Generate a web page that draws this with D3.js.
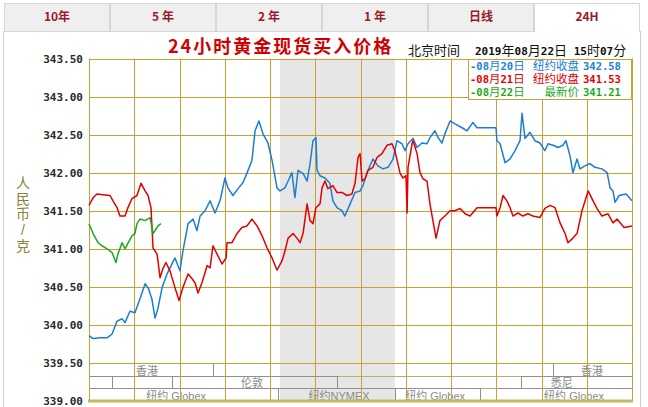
<!DOCTYPE html>
<html><head><meta charset="utf-8">
<script src="https://cdn.jsdelivr.net/npm/d3@7"></script>
<style>body{margin:0;background:#fff;} svg{display:block} text{white-space:pre}</style>
</head><body>
<svg id="c" width="648" height="407"></svg>
<script>
// ---------- data ----------
const tabs = ["10年", "5 年", "2 年", "1 年", "日线", "24H"];
const activeTab = "24H";
const yTicks = [343.5, 343.0, 342.5, 342.0, 341.5, 341.0, 340.5, 340.0, 339.5, 339.0];
const hourTicks = [0, 2, 4, 6, 8, 10, 12, 14, 16, 18, 20, 22, 24];
const shadeBand = [8.44, 13.52];
const titleText = "24小时黄金现货买入价格";
const timeLabel = "北京时间";
const timeText = "2019年08月22日 15时07分";
const yTitle = ["人", "民", "币", "/", "克"];

// [hour since 12:00, price]
const blueSeries = [
[0,339.86],[0.18,339.82],[0.49,339.83],[0.80,339.83],[1.02,339.88],[1.24,340.05],[1.46,340.08],[1.59,340.03],
[1.81,340.18],[2.03,340.16],[2.25,340.34],[2.48,340.54],[2.61,340.49],[2.78,340.34],[2.92,340.09],[3.05,340.22],
[3.23,340.49],[3.45,340.67],[3.58,340.75],[3.80,340.88],[4.02,340.71],[4.15,340.97],[4.38,341.33],[4.60,341.39],
[4.77,341.24],[4.91,341.43],[5.13,341.50],[5.35,341.63],[5.57,341.47],[5.79,341.63],[6.01,341.93],[6.14,341.80],
[6.36,341.70],[6.59,341.79],[6.81,341.87],[7.03,342.03],[7.20,342.16],[7.34,342.55],[7.51,342.68],[7.69,342.51],
[7.91,342.39],[8.09,342.16],[8.31,341.80],[8.44,341.76],[8.66,341.80],[8.80,341.89],[8.97,342.00],[9.10,341.67],
[9.24,342.03],[9.46,341.99],[9.64,341.89],[9.77,342.12],[9.90,342.42],[10.03,342.46],[10.08,342.03],[10.21,341.96],
[10.43,341.93],[10.65,341.86],[10.78,341.63],[10.96,341.54],[11.18,341.50],[11.31,341.43],[11.54,341.59],[11.76,341.74],
[11.98,341.76],[12.11,341.83],[12.33,342.03],[12.55,342.18],[12.77,342.09],[12.99,342.05],[13.22,342.07],[13.44,342.18],
[13.61,342.42],[13.83,342.38],[13.97,342.29],[14.10,342.38],[14.32,342.45],[14.50,342.33],[14.72,342.39],[14.94,342.38],
[15.07,342.46],[15.29,342.55],[15.43,342.46],[15.60,342.39],[15.73,342.51],[15.96,342.68],[16.18,342.64],[16.49,342.59],
[16.71,342.55],[16.97,342.66],[17.15,342.59],[17.99,342.59],[18.03,342.42],[18.17,342.38],[18.39,342.13],[18.61,342.18],
[18.83,342.29],[19.05,342.42],[19.14,342.78],[19.27,342.45],[19.49,342.53],[19.71,342.42],[19.93,342.39],[20.15,342.29],
[20.29,342.38],[20.51,342.36],[20.73,342.33],[20.95,342.36],[21.08,342.42],[21.26,342.22],[21.39,342.00],[21.57,342.18],
[21.70,342.05],[21.92,342.09],[22.14,342.12],[22.36,342.07],[22.67,342.05],[22.90,342.00],[23.03,341.80],[23.16,341.76],
[23.25,341.61],[23.43,341.70],[23.74,341.72],[24.0,341.63]
];
const redSeries = [
[0,341.57],[0.18,341.67],[0.35,341.72],[0.62,341.71],[0.93,341.70],[1.06,341.63],[1.24,341.54],[1.37,341.43],
[1.59,341.43],[1.72,341.54],[1.90,341.66],[2.12,341.70],[2.30,341.86],[2.48,341.76],[2.61,341.70],[2.74,341.54],
[2.83,341.01],[3.01,340.93],[3.14,340.62],[3.27,340.74],[3.40,340.82],[3.58,340.71],[3.80,340.49],[3.98,340.32],
[4.15,340.49],[4.38,340.67],[4.55,340.61],[4.69,340.55],[4.82,340.42],[4.99,340.55],[5.22,340.78],[5.35,340.75],
[5.48,341.04],[5.66,340.93],[5.88,340.80],[6.06,340.88],[6.10,341.08],[6.32,341.08],[6.54,341.20],[6.76,341.28],
[6.98,341.30],[7.20,341.39],[7.43,341.30],[7.65,341.17],[7.87,341.01],[8.09,340.88],[8.31,340.72],[8.53,340.84],
[8.66,340.97],[8.80,341.14],[9.02,341.20],[9.19,341.14],[9.33,341.08],[9.46,341.20],[9.64,341.59],[9.77,341.37],
[9.90,341.33],[10.03,341.54],[10.21,341.59],[10.30,341.80],[10.43,341.89],[10.56,341.79],[10.78,341.83],[10.96,341.74],
[11.18,341.74],[11.40,341.70],[11.62,341.72],[11.76,341.86],[11.89,342.20],[11.98,342.25],[12.07,341.89],[12.20,341.92],
[12.33,342.03],[12.55,342.07],[12.73,342.20],[12.95,342.25],[13.17,342.36],[13.39,342.38],[13.52,342.29],[13.75,341.99],
[13.88,341.93],[14.01,341.96],[14.06,341.47],[14.10,342.07],[14.28,342.38],[14.32,342.42],[14.50,342.25],[14.63,342.00],
[14.76,341.92],[14.94,341.89],[15.07,341.59],[15.20,341.37],[15.34,341.14],[15.51,341.37],[15.73,341.43],[15.96,341.50],
[16.18,341.50],[16.40,341.53],[16.62,341.46],[16.84,341.43],[17.15,341.54],[17.99,341.54],[18.03,341.43],[18.17,341.54],
[18.30,341.70],[18.47,341.63],[18.61,341.54],[18.74,341.43],[18.96,341.47],[19.18,341.43],[19.40,341.46],[19.62,341.43],
[19.93,341.41],[20.15,341.53],[20.38,341.57],[20.60,341.54],[20.82,341.34],[21.04,341.20],[21.17,341.08],[21.39,341.14],
[21.57,341.20],[21.79,341.50],[22.06,341.76],[22.28,341.63],[22.45,341.53],[22.67,341.43],[22.94,341.46],[23.16,341.34],
[23.34,341.39],[23.65,341.28],[24.0,341.30]
];
const greenSeries = [
[0,341.33],[0.18,341.20],[0.40,341.08],[0.57,341.04],[0.80,341.00],[1.02,340.95],[1.19,340.82],[1.28,340.93],
[1.46,341.08],[1.59,341.00],[1.72,341.07],[1.90,341.17],[2.03,341.20],[2.12,341.33],[2.25,341.39],[2.48,341.37],
[2.70,341.41],[2.83,341.20],[2.92,341.24],[3.05,341.30],[3.18,341.33]
];
const seriesColors = ["#1a7fd4", "#e30000", "#1fa81f"];
const legendDates = ["-08月20日", "-08月21日", "-08月22日"];
const legendLabels = ["纽约收盘", "纽约收盘", "最新价"];
const legendValues = ["342.58", "341.53", "341.21"];

// sessions: row 0 = 香港, row 1 = 伦敦/悉尼, row 2 = 纽约
const sessionNames = ["香港", "香港", "", "伦敦", "悉尼", "纽约 Globex", "纽约NYMEX", "纽约 Globex", "纽约 Globex"];
const sessionRows = [0, 0, 1, 1, 1, 2, 2, 2, 2];
const sessionStart = [0, 20.51, 0, 3.67, 19.1, 0, 8.35, 13.52, 17.99];
const sessionEnd = [5.48, 24, 1.02, 10.96, 24, 8.35, 13.52, 17.28, 24];
const sessionLabelAt = [2.56, 22.23, 0.5, 7.2, 20.9, 3.85, 11.05, 15.3, 21.44];

// ---------- drawing ----------
const svg = d3.select("#c");
const W = 648, H = 407;
const x = d3.scaleLinear().domain([0, 24]).range([89, 632]);
const y = d3.scaleLinear().domain([339, 343.5]).range([401, 58.5]);
const gold = "#c9a232";
const px = v => Math.round(v) + 0.5;
const MONO = "'DejaVu Sans Mono', monospace";
const CJK = "'Noto Sans CJK SC', 'Noto Sans', sans-serif";
// compact line box: latin primary font, CJK glyphs via fallback
const CJKC = "'Liberation Sans', 'Noto Sans CJK SC', sans-serif";

function mixed(sel, str, asciiSize, cjkSize, pos, cjkFamily) {
  const runs = str.match(/[\x00-\x7f]+|[^\x00-\x7f]+/g);
  runs.forEach((r, k) => {
    const ascii = /^[\x00-\x7f]/.test(r);
    const t = sel.append("tspan").text(r)
      .attr("font-family", ascii ? MONO : (cjkFamily || CJK))
      .attr("font-size", ascii ? asciiSize : cjkSize)
      .attr("font-weight", ascii ? "bold" : "normal");
    if (k === 0 && pos) t.attr("x", pos[0]).attr("y", pos[1]);
  });
  return sel;
}

svg.append("rect").attr("width", W).attr("height", H).attr("fill", "#fff");

// tabs
const tabScale = d3.scaleBand().domain(tabs).range([4, 640]);
const tabG = svg.append("g");
tabs.forEach(t => {
  const x0 = tabScale(t), w = tabScale.bandwidth();
  const active = t === activeTab;
  tabG.append("rect").attr("x", x0 + 0.5).attr("y", 3.5).attr("width", w - 1).attr("height", 28)
    .attr("fill", active ? "#ffffff" : "#efefef").attr("stroke", "#d6d6d6");
  if (active) tabG.append("line").attr("x1", x0 + 1).attr("x2", x0 + w - 1).attr("y1", 31.5).attr("y2", 31.5).attr("stroke", "#fff").attr("stroke-width", 2);
  tabG.append("text").attr("x", x0 + w / 2).attr("y", 21).attr("text-anchor", "middle")
    .attr("fill", "#9a1a2a").attr("font-weight", "bold").attr("font-size", 12).attr("font-family", CJK).text(t);
});

// outer frame
svg.append("line").attr("x1", 3.5).attr("x2", 3.5).attr("y1", 31).attr("y2", H).attr("stroke", "#cfcfcf");
svg.append("line").attr("x1", 640.5).attr("x2", 640.5).attr("y1", 31).attr("y2", H).attr("stroke", "#cfcfcf");

// title
svg.append("text").attr("x", 168).attr("y", 53).attr("fill", "#d10000").attr("font-weight", "bold")
  .attr("font-size", 18).attr("letter-spacing", 2).attr("font-family", CJK).text(titleText);
svg.append("text").attr("x", 408).attr("y", 54.5).attr("fill", "#111").attr("font-size", 13).attr("font-family", CJK).text(timeLabel);
mixed(svg.append("text").attr("x", 475).attr("y", 54.5).attr("fill", "#111"), timeText, 11, 13);

// y title (one character per line)
const yt = svg.append("text").attr("x", 23).attr("y", 188).attr("text-anchor", "middle")
  .attr("fill", "#85853c").attr("font-size", 14).attr("font-family", CJKC);
yTitle.forEach((c, i) => {
  yt.append("tspan").attr("x", 23).attr("dy", i === 0 ? 0 : 15.7).text(c);
});

// shaded band
svg.append("rect").attr("x", x(shadeBand[0])).attr("y", y(343.5)).attr("width", x(shadeBand[1]) - x(shadeBand[0]))
  .attr("height", y(339) - y(343.5)).attr("fill", "#e6e6e6");

// session rows
const rowTop = y(339.5), rowH = (y(339) - y(339.5)) / 3;
[1, 2].forEach(k => {
  svg.append("line").attr("x1", x(0)).attr("x2", x(24)).attr("y1", px(rowTop + k * rowH)).attr("y2", px(rowTop + k * rowH))
    .attr("stroke", "#b9ad80");
});
sessionNames.forEach((n, i) => {
  const r = sessionRows[i];
  const y0 = px(rowTop + r * rowH), y1 = px(rowTop + (r + 1) * rowH);
  svg.append("rect").attr("x", px(x(sessionStart[i]))).attr("y", y0)
    .attr("width", px(x(sessionEnd[i])) - px(x(sessionStart[i]))).attr("height", y1 - y0)
    .attr("fill", "none").attr("stroke", "#8f8f8f");
  if (n) svg.append("text").attr("x", x(sessionLabelAt[i])).attr("y", (y0 + y1) / 2 + 4.5).attr("text-anchor", "middle")
    .attr("fill", "#8a8a8a").attr("font-size", 11).attr("font-family", CJKC).text(n);
});

// grid
const grid = svg.append("g").attr("stroke", gold).attr("stroke-width", 1);
yTicks.filter(t => t > 339).forEach(t => {
  grid.append("line").attr("x1", x(0)).attr("x2", x(24)).attr("y1", px(y(t))).attr("y2", px(y(t)));
});
hourTicks.forEach(h => {
  grid.append("line").attr("x1", px(x(h))).attr("x2", px(x(h))).attr("y1", y(343.5)).attr("y2", y(339));
});
svg.append("line").attr("x1", x(0) - 1).attr("x2", x(24) + 1).attr("y1", y(339)).attr("y2", y(339))
  .attr("stroke", "#c8b766").attr("stroke-width", 3);

// y labels
yTicks.forEach(t => {
  svg.append("text").attr("x", 83).attr("y", y(t) + 4).attr("text-anchor", "end")
    .attr("font-family", MONO).attr("font-weight", "bold").attr("font-size", 11).attr("fill", "#2a2a2a")
    .text(t.toFixed(2));
});

// series
const line = d3.line().x(d => x(d[0])).y(d => y(d[1]));
[blueSeries, redSeries, greenSeries].forEach((s, i) => {
  svg.append("path").datum(s).attr("d", line).attr("fill", "none")
    .attr("stroke", seriesColors[i]).attr("stroke-width", 1.5).attr("stroke-linejoin", "round");
});

// legend
const rowStep = 12.8;
svg.append("rect").attr("x", 468.5).attr("y", px(y(343.5))).attr("width", 163).attr("height", 40)
  .attr("fill", "#fff").attr("stroke", gold);
const lg = svg.append("text");
legendDates.forEach((d, i) => {
  const yy = 70 + i * rowStep;
  const g = lg.append("tspan").attr("fill", seriesColors[i]);
  mixed(g, d, 10.5, 11.5, [470, yy], CJKC);
  g.append("tspan").attr("x", 579).attr("y", yy).attr("text-anchor", "end")
    .attr("font-size", 11.5).attr("font-family", CJKC).text(legendLabels[i]);
  g.append("tspan").attr("x", 583).attr("y", yy)
    .attr("font-size", 10.5).attr("font-weight", "bold").attr("font-family", MONO).text(legendValues[i]);
});
</script>
</body></html>
